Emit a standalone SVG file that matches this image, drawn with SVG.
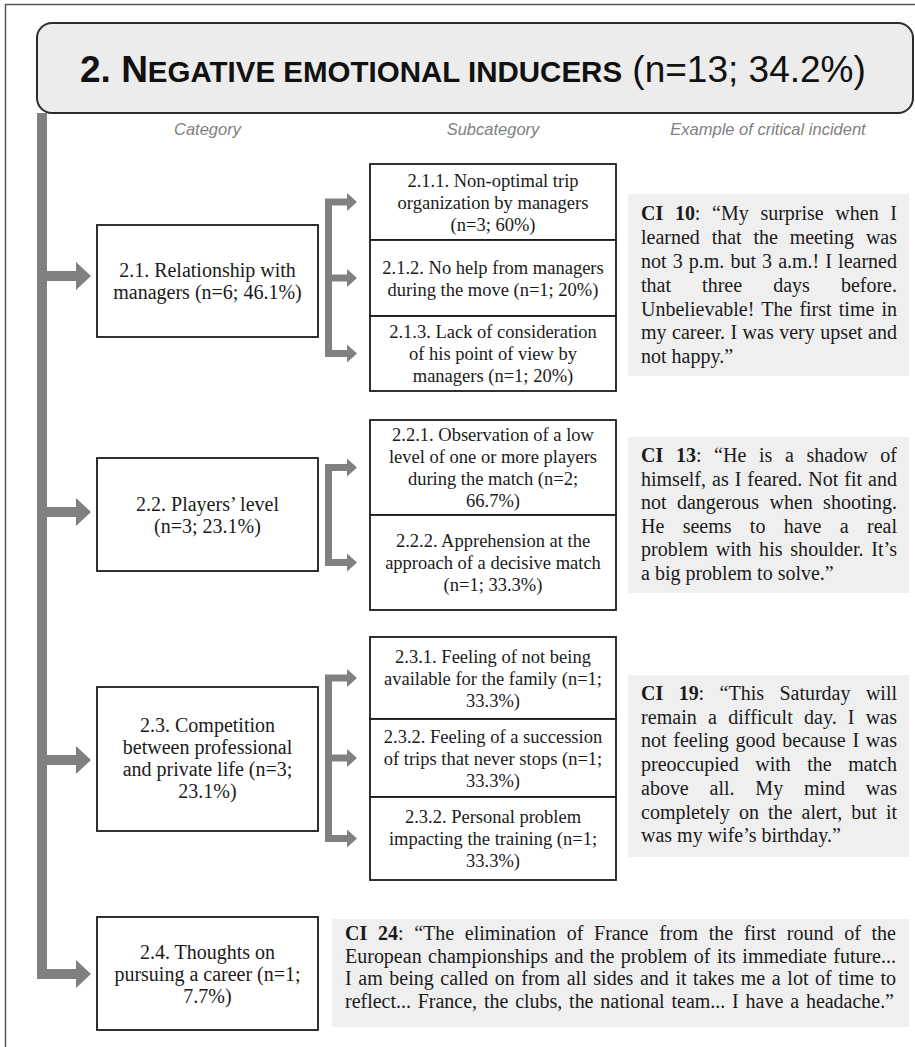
<svg xmlns="http://www.w3.org/2000/svg" width="915" height="1047" viewBox="0 0 915 1047">
<style>
.frame{fill:none;stroke:#555;stroke-width:1.5}
.tbox{fill:#ececec;stroke:#2b2b2b;stroke-width:2}
.hdr{font-family:"Liberation Sans",Arial,sans-serif;font-style:italic;font-size:16.5px;fill:#808080;text-anchor:middle}
.box{fill:#fff;stroke:#1a1a1a;stroke-width:1.8}
.ci{fill:#efefef}
.t{font-family:"Liberation Serif","Times New Roman",serif;fill:#1a1a1a}
.cat{font-size:20px;text-anchor:middle}
.sub{font-size:18.5px;text-anchor:middle}
.cit{font-size:20px}
.conn{fill:#808080}
.b{font-weight:bold}
</style>
<path class="frame" d="M5.5 1047 V4.5 H915"/>
<g id="title">
<rect class="tbox" x="37" y="23" width="876" height="90" rx="15"/>
<text x="80" y="82" font-family="Liberation Sans, Arial, sans-serif" font-weight="bold" font-size="37" fill="#111">2. N<tspan font-size="29.5">EGATIVE EMOTIONAL INDUCERS</tspan><tspan font-weight="normal"> (n=13; 34.2%)</tspan></text>
</g>
<g id="headers">
<text class="hdr" x="207.5" y="135">Category</text>
<text class="hdr" x="493" y="135">Subcategory</text>
<text class="hdr" x="768" y="135">Example of critical incident</text>
</g>
<g id="connectors" class="conn">
<path d="M37 113 H47 V969 H76 V960 L91 974 L76 988 V979 H37 Z"/>
<path d="M47 271 H76 V262 L91 276 L76 290 V281 H47 Z"/>
<path d="M47 507 H76 V498 L91 512 L76 526 V517 H47 Z"/>
<path d="M47 755 H76 V746 L91 760 L76 774 V765 H47 Z"/>
<path d="M325 198.5 H332 V357 H325 Z M325 198.5 H347 V193 L357 202 L347 211 V205.5 H325 Z M325 274.5 H347 V269 L357 278 L347 287 V281.5 H325 Z M325 350 H347 V344.5 L357 353.5 L347 362.5 V357 H325 Z"/>
<path d="M325 464 H332 V566 H325 Z M325 464 H347 V458.5 L357 467.5 L347 476.5 V471 H325 Z M325 559 H347 V553.5 L357 562.5 L347 571.5 V566 H325 Z"/>
<path d="M325 674.5 H332 V842 H325 Z M325 674.5 H347 V669 L357 678 L347 687 V681.5 H325 Z M325 754.5 H347 V749 L357 758 L347 767 V761.5 H325 Z M325 835 H347 V829.5 L357 838.5 L347 847.5 V842 H325 Z"/>
</g>
<g id="cat-2-1">
<rect class="box" x="97" y="225" width="221" height="112"/>
<text class="t cat" x="207.5" y="277">2.1. Relationship with</text>
<text class="t cat" x="207.5" y="299">managers (n=6; 46.1%)</text>
</g>
<g id="cat-2-2">
<rect class="box" x="97" y="458" width="221" height="113"/>
<text class="t cat" x="207.5" y="510.5">2.2. Players’ level</text>
<text class="t cat" x="207.5" y="532.5">(n=3; 23.1%)</text>
</g>
<g id="cat-2-3">
<rect class="box" x="97" y="687" width="221" height="144"/>
<text class="t cat" x="207.5" y="732">2.3. Competition</text>
<text class="t cat" x="207.5" y="754">between professional</text>
<text class="t cat" x="207.5" y="776">and private life (n=3;</text>
<text class="t cat" x="207.5" y="798">23.1%)</text>
</g>
<g id="cat-2-4">
<rect class="box" x="97" y="917" width="221" height="113"/>
<text class="t cat" x="207.5" y="958.5">2.4. Thoughts on</text>
<text class="t cat" x="207.5" y="980.5">pursuing a career (n=1;</text>
<text class="t cat" x="207.5" y="1002.5">7.7%)</text>
</g>
<g id="sub-2-1-1">
<rect class="box" x="370" y="164" width="246" height="76"/>
<text class="t sub" x="493" y="186.5">2.1.1. Non-optimal trip</text>
<text class="t sub" x="493" y="208.5">organization by managers</text>
<text class="t sub" x="493" y="230.5">(n=3; 60%)</text>
</g>
<g id="sub-2-1-2">
<rect class="box" x="370" y="240" width="246" height="76"/>
<text class="t sub" x="493" y="273.5">2.1.2. No help from managers</text>
<text class="t sub" x="493" y="295.5">during the move (n=1; 20%)</text>
</g>
<g id="sub-2-1-3">
<rect class="box" x="370" y="316" width="246" height="75"/>
<text class="t sub" x="493" y="338">2.1.3. Lack of consideration</text>
<text class="t sub" x="493" y="360">of his point of view by</text>
<text class="t sub" x="493" y="382">managers (n=1; 20%)</text>
</g>
<g id="sub-2-2-1">
<rect class="box" x="370" y="420" width="246" height="95"/>
<text class="t sub" x="493" y="441">2.2.1. Observation of a low</text>
<text class="t sub" x="493" y="463">level of one or more players</text>
<text class="t sub" x="493" y="485">during the match (n=2;</text>
<text class="t sub" x="493" y="507">66.7%)</text>
</g>
<g id="sub-2-2-2">
<rect class="box" x="370" y="515" width="246" height="95"/>
<text class="t sub" x="493" y="547">2.2.2. Apprehension at the</text>
<text class="t sub" x="493" y="569">approach of a decisive match</text>
<text class="t sub" x="493" y="591">(n=1; 33.3%)</text>
</g>
<g id="sub-2-3-1">
<rect class="box" x="370" y="637" width="246" height="82"/>
<text class="t sub" x="493" y="662.5">2.3.1. Feeling of not being</text>
<text class="t sub" x="493" y="684.5">available for the family (n=1;</text>
<text class="t sub" x="493" y="706.5">33.3%)</text>
</g>
<g id="sub-2-3-2">
<rect class="box" x="370" y="719" width="246" height="78"/>
<text class="t sub" x="493" y="742.5">2.3.2. Feeling of a succession</text>
<text class="t sub" x="493" y="764.5">of trips that never stops (n=1;</text>
<text class="t sub" x="493" y="786.5">33.3%)</text>
</g>
<g id="sub-2-3-3">
<rect class="box" x="370" y="797" width="246" height="83"/>
<text class="t sub" x="493" y="823">2.3.2. Personal problem</text>
<text class="t sub" x="493" y="845">impacting the training (n=1;</text>
<text class="t sub" x="493" y="867">33.3%)</text>
</g>
<g id="ci-10">
<rect class="ci" x="628" y="194" width="281" height="182"/>
<text class="t cit" x="641" y="220" textLength="256" lengthAdjust="spacing" style="word-spacing:6.66px"><tspan class="b">CI 10</tspan>: “My surprise when I</text>
<text class="t cit" x="641" y="244" textLength="256" lengthAdjust="spacing" style="word-spacing:6.8px">learned that the meeting was</text>
<text class="t cit" x="641" y="268" textLength="256" lengthAdjust="spacing" style="word-spacing:1.1px">not 3 p.m. but 3 a.m.! I learned</text>
<text class="t cit" x="641" y="291.5" textLength="256" lengthAdjust="spacing" style="word-spacing:26.1px">that three days before.</text>
<text class="t cit" x="641" y="315.5" textLength="256" lengthAdjust="spacing" style="word-spacing:2.07px">Unbelievable! The first time in</text>
<text class="t cit" x="641" y="339" textLength="256" lengthAdjust="spacing" style="word-spacing:0.37px">my career. I was very upset and</text>
<text class="t cit" x="641" y="363">not happy.”</text>
</g>
<g id="ci-13">
<rect class="ci" x="628" y="437" width="281" height="156"/>
<text class="t cit" x="641" y="462" textLength="256" lengthAdjust="spacing" style="word-spacing:7.67px"><tspan class="b">CI 13</tspan>: “He is a shadow of</text>
<text class="t cit" x="641" y="485.6" textLength="256" lengthAdjust="spacing" style="word-spacing:1px">himself, as I feared. Not fit and</text>
<text class="t cit" x="641" y="509.2" textLength="256" lengthAdjust="spacing" style="word-spacing:5.33px">not dangerous when shooting.</text>
<text class="t cit" x="641" y="532.8" textLength="256" lengthAdjust="spacing" style="word-spacing:13.3px">He seems to have a real</text>
<text class="t cit" x="641" y="556.4" textLength="256" lengthAdjust="spacing" style="word-spacing:2.5px">problem with his shoulder. It’s</text>
<text class="t cit" x="641" y="580">a big problem to solve.”</text>
</g>
<g id="ci-19">
<rect class="ci" x="628" y="675" width="281" height="182"/>
<text class="t cit" x="641" y="700" textLength="256" lengthAdjust="spacing" style="word-spacing:10.4px"><tspan class="b">CI 19</tspan>: “This Saturday will</text>
<text class="t cit" x="641" y="723.7" textLength="256" lengthAdjust="spacing" style="word-spacing:6.1px">remain a difficult day. I was</text>
<text class="t cit" x="641" y="747.4" textLength="256" lengthAdjust="spacing" style="word-spacing:1.76px">not feeling good because I was</text>
<text class="t cit" x="641" y="771.1" textLength="256" lengthAdjust="spacing" style="word-spacing:11.5px">preoccupied with the match</text>
<text class="t cit" x="641" y="794.8" textLength="256" lengthAdjust="spacing" style="word-spacing:15.8px">above all. My mind was</text>
<text class="t cit" x="641" y="818.5" textLength="256" lengthAdjust="spacing" style="word-spacing:4.1px">completely on the alert, but it</text>
<text class="t cit" x="641" y="842.2">was my wife’s birthday.”</text>
</g>
<g id="ci-24">
<rect class="ci" x="332" y="919" width="577" height="108"/>
<text class="t cit" x="345" y="940" textLength="551" lengthAdjust="spacing" style="word-spacing:5.7px"><tspan class="b">CI 24</tspan>: “The elimination of France from the first round of the</text>
<text class="t cit" x="345" y="962.5" textLength="551" lengthAdjust="spacing" style="word-spacing:1.45px">European championships and the problem of its immediate future...</text>
<text class="t cit" x="345" y="985" textLength="551" lengthAdjust="spacing" style="word-spacing:1.6px">I am being called on from all sides and it takes me a lot of time to</text>
<text class="t cit" x="345" y="1007.5" textLength="549" lengthAdjust="spacing" style="word-spacing:1.9px">reflect... France, the clubs, the national team... I have a headache.”</text>
</g>
</svg>
